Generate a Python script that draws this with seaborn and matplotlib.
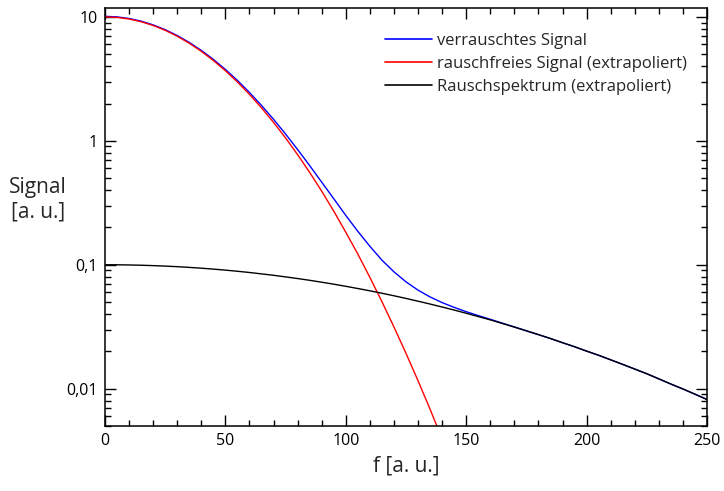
import numpy as np
import pandas as pd
import matplotlib
matplotlib.use("Agg")
import matplotlib.pyplot as plt
import seaborn as sns
from matplotlib.ticker import FixedLocator, FixedFormatter, MultipleLocator, LogLocator, NullFormatter

# ---- data ----
f_blue = [0, 5, 10, 15, 20, 25, 30, 35, 40, 45, 50, 55, 60, 65, 70, 75, 80, 85, 90, 95,
          100, 105, 110, 115, 120, 125, 130, 135, 140, 145, 150, 155, 160, 165, 170,
          175, 180, 185, 190, 195, 200, 205, 210, 215, 220, 225, 230, 235, 240, 245, 250]
blue = [10.1, 10.0, 9.708, 9.238, 8.619, 7.886, 7.074, 6.221, 5.367, 4.541, 3.769, 3.071,
        2.456, 1.929, 1.491, 1.134, 0.850, 0.631, 0.464, 0.341, 0.250, 0.186, 0.141, 0.109,
        0.0877, 0.0728, 0.0624, 0.0550, 0.0495, 0.0453, 0.0418, 0.0389, 0.0363, 0.0338,
        0.0315, 0.0293, 0.0273, 0.0254, 0.0235, 0.0218, 0.0201, 0.0186, 0.0171, 0.0157,
        0.0144, 0.0132, 0.0120, 0.0109, 0.00995, 0.00903, 0.00818]

f_red = [0, 5, 10, 15, 20, 25, 30, 35, 40, 45, 50, 55, 60, 65, 70, 75, 80, 85, 90, 95,
         100, 105, 110, 115, 120, 125, 130, 135, 140]
red = [10.0, 9.900, 9.608, 9.139, 8.521, 7.788, 6.977, 6.126, 5.273, 4.449, 3.679, 2.982,
       2.369, 1.845, 1.409, 1.054, 0.773, 0.556, 0.392, 0.271, 0.183, 0.122, 0.0791,
       0.0504, 0.0315, 0.0193, 0.0116, 0.00683, 0.00394]

f_black = f_blue
black = [0.1, 0.0999, 0.0996, 0.0991, 0.0984, 0.0975, 0.0965, 0.0952, 0.0938, 0.0922,
         0.0905, 0.0886, 0.0866, 0.0844, 0.0822, 0.0798, 0.0774, 0.0749, 0.0723, 0.0697,
         0.0670, 0.0643, 0.0616, 0.0589, 0.0562, 0.0535, 0.0508, 0.0482, 0.0456, 0.0431,
         0.0406, 0.0382, 0.0359, 0.0336, 0.0314, 0.0293, 0.0273, 0.0254, 0.0235, 0.0218,
         0.0201, 0.0186, 0.0171, 0.0157, 0.0144, 0.0132, 0.0120, 0.0109, 0.00995, 0.00903,
         0.00818]

series_names = ["verrauschtes Signal", "rauschfreies Signal (extrapoliert)",
                "Rauschspektrum (extrapoliert)"]
series_colors = ["#0000ff", "#ff0000", "#000000"]

x_ticks = [0, 50, 100, 150, 200, 250]
y_ticks = [0.01, 0.1, 1, 10]
y_tick_labels = ["0,01", "0,1", "1", "10"]

df = pd.concat([
    pd.DataFrame({"f": f_blue, "Signal": blue, "Serie": series_names[0]}),
    pd.DataFrame({"f": f_red, "Signal": red, "Serie": series_names[1]}),
    pd.DataFrame({"f": f_black, "Signal": black, "Serie": series_names[2]}),
], ignore_index=True)

sns.set_theme(style="white")
plt.rcParams["font.family"] = ["Open Sans", "DejaVu Sans"]
plt.rcParams["axes.linewidth"] = 1.1

fig = plt.figure(figsize=(7.24, 4.91), dpi=100)
ax = fig.add_axes([0.145, 0.1324, 0.8315, 0.8523])

sns.lineplot(data=df, x="f", y="Signal", hue="Serie", hue_order=series_names,
             palette=dict(zip(series_names, series_colors)), estimator=None, sort=False,
             linewidth=1.0, ax=ax)

ax.set_yscale("log")
ax.set_xlim(0, 250)
ax.set_ylim(0.005, 11.9)

ax.xaxis.set_major_locator(FixedLocator(x_ticks))
ax.xaxis.set_minor_locator(MultipleLocator(10))
ax.set_xticklabels([str(t) for t in x_ticks])
ax.yaxis.set_major_locator(FixedLocator(y_ticks))
ax.yaxis.set_major_formatter(FixedFormatter(y_tick_labels))
ax.yaxis.set_minor_locator(LogLocator(base=10, subs=np.arange(2, 10)))
ax.yaxis.set_minor_formatter(NullFormatter())

ax.tick_params(which="both", direction="in", top=True, right=True, bottom=True, left=True,
               colors="black", labelsize=11.5, width=1.0)
ax.tick_params(which="major", length=8, pad=5)
ax.tick_params(which="minor", length=4)
for s in ax.spines.values():
    s.set_color("black")

ax.set_xlabel("f [a. u.]", fontsize=15, labelpad=5)
ax.set_ylabel("")
fig.text(0.052, 0.593, "Signal\n[a. u.]", fontsize=15, ha="center", va="center",
         linespacing=1.2)

leg = ax.legend(loc="upper left", bbox_to_anchor=(0.465, 0.94), frameon=False,
                fontsize=12, handlelength=2.82, handletextpad=0.3, labelspacing=0.42,
                borderaxespad=0, borderpad=0)
for line in leg.get_lines():
    line.set_linewidth(1.2)

fig.savefig("out.png", dpi=100)
